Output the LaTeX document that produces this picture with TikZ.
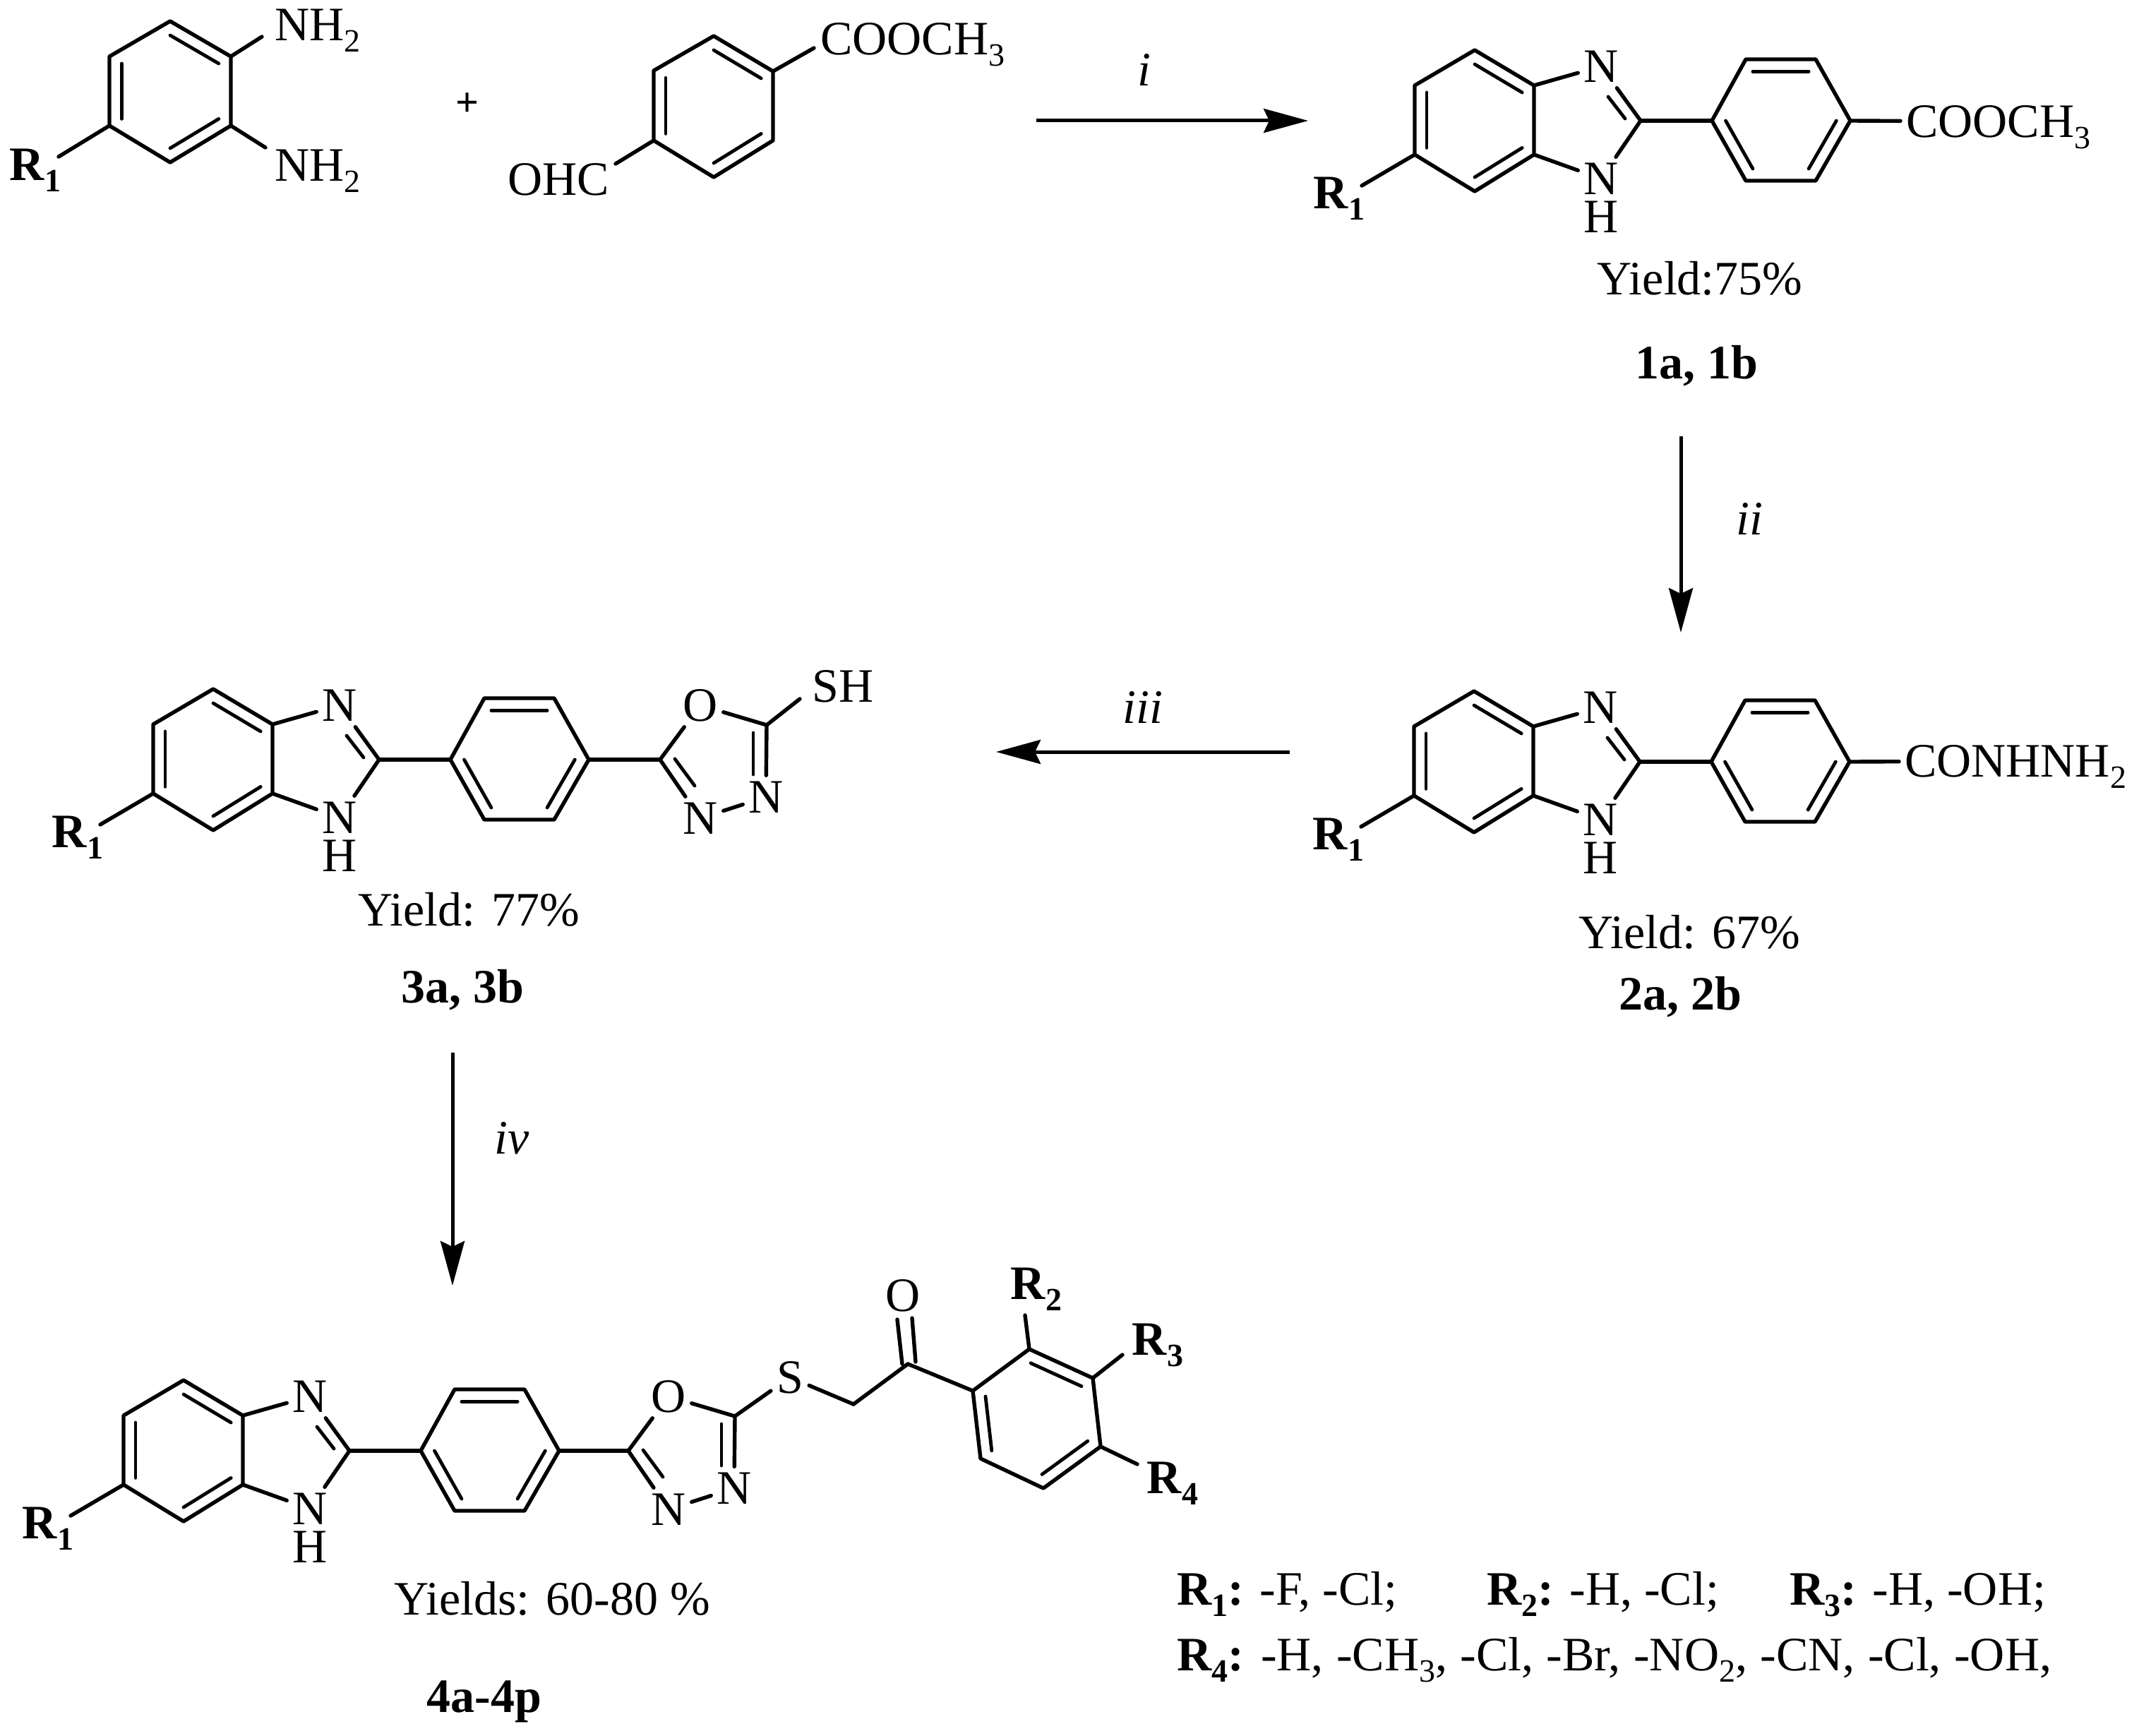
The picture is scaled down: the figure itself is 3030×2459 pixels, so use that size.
\documentclass[tikz,border=0pt]{standalone}
\usepackage{fontspec}
\setmainfont{Liberation Serif}
\usetikzlibrary{calc, arrows.meta}

\newcommand{\chemfont}{\fontsize{68}{80}\selectfont}
\newcommand{\chemsub}[1]{\raisebox{-16pt}{\fontsize{46}{46}\selectfont #1}}
\newcommand{\innerbond}[3]{\draw[innerline] ($(#1)!.2!(#3)$) -- ($(#2)!.2!(#3)$);}

\tikzset{
  every node/.style={font=\chemfont, inner sep=0pt},
  bond/.style={line width=5.4pt, line join=round, line cap=round},
  innerline/.style={line width=4.8pt, line cap=round},
  atom/.style={inner sep=8pt, text height=45pt, text depth=0pt},
  rgroup/.style={atom, font=\chemfont\bfseries},
  caption/.style={anchor=base},
  number/.style={anchor=base, font=\chemfont\bfseries},
  stepname/.style={anchor=base, font=\chemfont\itshape},
  rowtext/.style={anchor=base west},
  reaction/.style={line width=5pt, -{Stealth[length=63pt, width=34pt, inset=8pt]}}
}

\newcommand{\coreunit}[3]{
  \begin{scope}[shift={(#2,#3)}]
    \coordinate (#1-a) at (0,0);
    \coordinate (#1-b) at (0,-98);
    \coordinate (#1-c) at (85,-148);
    \coordinate (#1-d) at (169,-98);
    \coordinate (#1-e) at (169,0);
    \coordinate (#1-f) at (85,52);
    \coordinate (#1-ctr) at (85,-48);
    \coordinate (#1-c2) at (320,-48);
    \coordinate (#1-p1) at (421,-48);
    \coordinate (#1-p2) at (469,-135);
    \coordinate (#1-p3) at (568,-135);
    \coordinate (#1-p4) at (617,-48);
    \coordinate (#1-p5) at (568,37);
    \coordinate (#1-p6) at (469,37);
    \coordinate (#1-pctr) at (518.5,-48);
    \coordinate (#1-dbl1) at (274,-82);
    \coordinate (#1-dbl2) at (298,-51);
    \coordinate (#1-rend) at (-75,44);
    \node[atom] (#1-n) at (264,-125) {N};
    \node[atom] (#1-nh) at (264,34) {N};
    \node[atom, inner sep=0pt] (#1-h) at (264,88) {H};
    \node[rgroup] (#1-r) at (-107,54) {R\chemsub{1}};
  \end{scope}
  \draw[bond] (#1-a) -- (#1-b) -- (#1-c) -- (#1-d) -- (#1-e) -- (#1-f) -- cycle;
  \innerbond{#1-c}{#1-d}{#1-ctr}
  \innerbond{#1-b}{#1-a}{#1-ctr}
  \innerbond{#1-f}{#1-e}{#1-ctr}
  \draw[bond] (#1-d) -- (#1-n);
  \draw[bond] (#1-n) -- (#1-c2);
  \draw[innerline] (#1-dbl1) -- (#1-dbl2);
  \draw[bond] (#1-c2) -- (#1-nh);
  \draw[bond] (#1-e) -- (#1-nh);
  \draw[bond] (#1-c2) -- (#1-p1);
  \draw[bond] (#1-p1) -- (#1-p2) -- (#1-p3) -- (#1-p4) -- (#1-p5) -- (#1-p6) -- cycle;
  \innerbond{#1-p2}{#1-p3}{#1-pctr}
  \innerbond{#1-p1}{#1-p6}{#1-pctr}
  \innerbond{#1-p4}{#1-p5}{#1-pctr}
  \draw[bond] (#1-a) -- (#1-rend);
}

\newcommand{\oxaunit}[2]{
  \begin{scope}[shift={(#2)}]
    \coordinate (#1-c1) at (101,0);
    \coordinate (#1-c5) at (252,-49);
    \coordinate (#1-dbl1) at (233,-38);
    \coordinate (#1-dbl2) at (233,21);
    \coordinate (#1-dbl3) at (122,-1);
    \coordinate (#1-dbl4) at (150,37);
    \node[atom] (#1-o) at (158,-77) {O};
    \node[atom] (#1-n1) at (251,53) {N};
    \node[atom] (#1-n2) at (158,83) {N};
  \end{scope}
  \draw[bond] (#1-c1) -- (#1-o);
  \draw[bond] (#1-o) -- (#1-c5);
  \draw[bond] (#1-c5) -- (#1-n1);
  \draw[innerline] (#1-dbl1) -- (#1-dbl2);
  \draw[bond] (#1-n1) -- (#1-n2);
  \draw[bond] (#1-c1) -- (#1-n2);
  \draw[innerline] (#1-dbl3) -- (#1-dbl4);
}

\begin{document}
\begin{tikzpicture}[x=1pt, y=-1pt]
  \useasboundingbox (0,0) rectangle (3030,2459);

  \coordinate (da-a) at (155,178);
  \coordinate (da-b) at (155,80);
  \coordinate (da-c) at (241,30);
  \coordinate (da-d) at (327,80);
  \coordinate (da-e) at (327,178);
  \coordinate (da-f) at (241,230);
  \coordinate (da-ctr) at (241,130);
  \coordinate (da-end1) at (371,52);
  \coordinate (da-end2) at (376,209);
  \coordinate (da-end3) at (83,222);
  \node[rowtext] (da-nh1) at (389,58) {NH\chemsub{2}};
  \node[rowtext] (da-nh2) at (389,256) {NH\chemsub{2}};
  \node[rgroup] (da-r) at (50,233) {R\chemsub{1}};
  \draw[bond] (da-a) -- (da-b) -- (da-c) -- (da-d) -- (da-e) -- (da-f) -- cycle;
  \innerbond{da-c}{da-d}{da-ctr}
  \innerbond{da-b}{da-a}{da-ctr}
  \innerbond{da-f}{da-e}{da-ctr}
  \draw[bond] (da-d) -- (da-end1);
  \draw[bond] (da-e) -- (da-end2);
  \draw[bond] (da-a) -- (da-end3);

  \node[font=\fontsize{58}{60}\selectfont\bfseries] (plus) at (662,148) {+};

  \coordinate (al-a) at (926,199);
  \coordinate (al-b) at (926,100);
  \coordinate (al-c) at (1011,51);
  \coordinate (al-d) at (1095,101);
  \coordinate (al-e) at (1095,199);
  \coordinate (al-f) at (1011,251);
  \coordinate (al-ctr) at (1011,151);
  \coordinate (al-end1) at (1153,68);
  \coordinate (al-end2) at (872,232);
  \node[rowtext] (al-ester) at (1162,78) {COOCH\chemsub{3}};
  \node[rowtext] (al-ohc) at (719,276) {OHC};
  \draw[bond] (al-a) -- (al-b) -- (al-c) -- (al-d) -- (al-e) -- (al-f) -- cycle;
  \innerbond{al-c}{al-d}{al-ctr}
  \innerbond{al-b}{al-a}{al-ctr}
  \innerbond{al-f}{al-e}{al-ctr}
  \draw[bond] (al-d) -- (al-end1);
  \draw[bond] (al-a) -- (al-end2);

  \coordinate (arr1a) at (1468,171);
  \coordinate (arr1b) at (1853,171);
  \draw[reaction] (arr1a) -- (arr1b);
  \node[stepname] (step1) at (1621,122) {i};

  \coreunit{1a}{2004}{219}
  \node[atom, anchor=west] (1a-ester) at (2692,172) {COOCH\chemsub{3}};
  \draw[bond] (1a-p4) -- (1a-ester);
  \node[caption] (1a-yield) at (2408,417) {Yield:75\%};
  \node[number] (1a-name) at (2403,536) {1a, 1b};

  \coordinate (arr2a) at (2381,618);
  \coordinate (arr2b) at (2381,896);
  \draw[reaction] (arr2a) -- (arr2b);
  \node[stepname] (step2) at (2478,757) {ii};

  \coreunit{2a}{2003}{1127}
  \node[atom, anchor=west] (2a-amide) at (2690,1078) {CONHNH\chemsub{2}};
  \draw[bond] (2a-p4) -- (2a-amide);
  \node[caption] (2a-yield) at (2393,1343) {Yield: 67\%};
  \node[number] (2a-name) at (2380,1430) {2a, 2b};

  \coordinate (arr3a) at (1827,1065);
  \coordinate (arr3b) at (1411,1065);
  \draw[reaction] (arr3a) -- (arr3b);
  \node[stepname] (step3) at (1619,1024) {iii};

  \coreunit{3a}{217}{1124}
  \oxaunit{3o}{3a-p4}
  \draw[bond] (3a-p4) -- (3o-c1);
  \coordinate (3o-end) at (1133,990);
  \node[rowtext] (3o-sh) at (1150,994) {SH};
  \draw[bond] (3o-c5) -- (3o-end);
  \node[caption] (3a-yield) at (664,1311) {Yield: 77\%};
  \node[number] (3a-name) at (655,1420) {3a, 3b};

  \coordinate (arr4a) at (641,1491);
  \coordinate (arr4b) at (641,1821);
  \draw[reaction] (arr4a) -- (arr4b);
  \node[stepname] (step4) at (725,1634) {iv};

  \coreunit{4a}{175}{2103}
  \coordinate (4o-base) at ($(4a-p4)+(-3,0)$);
  \oxaunit{4o}{4o-base}
  \draw[bond] (4a-p4) -- (4o-c1);
  \node[atom] (4-s) at (1119,1951) {S};
  \coordinate (4-ch2) at (1209,1989);
  \coordinate (4-co) at (1286,1932);
  \node[atom] (4-o) at (1279,1835) {O};
  \coordinate (4-oa1) at (1271,1869);
  \coordinate (4-oa2) at (1278,1932);
  \coordinate (4-ob1) at (1292,1867);
  \coordinate (4-ob2) at (1297,1929);
  \coordinate (4-a) at (1378,1970);
  \coordinate (4-b) at (1458,1911);
  \coordinate (4-c) at (1548,1952);
  \coordinate (4-d) at (1559,2049);
  \coordinate (4-e) at (1478,2108);
  \coordinate (4-f) at (1389,2066);
  \coordinate (4-ctr) at (1468,2010);
  \coordinate (4-end2) at (1452,1863);
  \coordinate (4-end3) at (1590,1919);
  \coordinate (4-end4) at (1611,2074);
  \node[rgroup] (4-r2) at (1468,1818) {R\chemsub{2}};
  \node[rgroup] (4-r3) at (1640,1897) {R\chemsub{3}};
  \node[rgroup] (4-r4) at (1661,2093) {R\chemsub{4}};
  \draw[bond] (4o-c5) -- (4-s);
  \draw[bond] (4-s) -- (4-ch2);
  \draw[bond] (4-ch2) -- (4-co);
  \draw[bond] (4-co) -- (4-a);
  \draw[bond] (4-oa1) -- (4-oa2);
  \draw[bond] (4-ob1) -- (4-ob2);
  \draw[bond] (4-a) -- (4-b) -- (4-c) -- (4-d) -- (4-e) -- (4-f) -- cycle;
  \innerbond{4-b}{4-c}{4-ctr}
  \innerbond{4-d}{4-e}{4-ctr}
  \innerbond{4-a}{4-f}{4-ctr}
  \draw[bond] (4-b) -- (4-end2);
  \draw[bond] (4-c) -- (4-end3);
  \draw[bond] (4-d) -- (4-end4);
  \node[caption] (4a-yield) at (782,2287) {Yields: 60-80 \%};
  \node[number] (4a-name) at (686,2425) {4a-4p};

  \node[rowtext] (row1-1) at (1667,2273) {\textbf{R\chemsub{1}:} -F, -Cl;};
  \node[rowtext] (row1-2) at (2106,2273) {\textbf{R\chemsub{2}:} -H, -Cl;};
  \node[rowtext] (row1-3) at (2535,2273) {\textbf{R\chemsub{3}:} -H, -OH;};
  \node[rowtext] (row2-1) at (1667,2366) {\spaceskip=18.4pt \textbf{R\chemsub{4}:} -H, -CH\chemsub{3}, -Cl, -Br, -NO\chemsub{2}, -CN, -Cl, -OH,};
\end{tikzpicture}
\end{document}
